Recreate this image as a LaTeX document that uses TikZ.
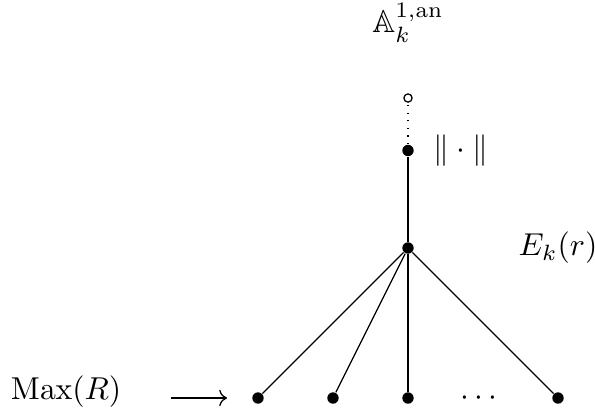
\documentclass[tikz,border=0pt]{standalone}
\usepackage{amsmath,amssymb}
\usepackage{tikz}
\usetikzlibrary{arrows.meta,positioning}
\tikzset{
  pt/.style={circle,fill=black,draw=none,inner sep=0pt,minimum size=3.6pt},
  opt/.style={circle,draw=black,fill=white,inner sep=0pt,minimum size=2.6pt},
  arr/.style={-{To}}
}
\begin{document}
\begin{tikzpicture}[x=0.8333cm,y=0.8333cm]
  \useasboundingbox (-5.44,-0.253) rectangle (2.493,5.307);
  \node (top) at (0,5) {$\mathbb{A}_k^{1,\mathrm{an}}$};
  \node[opt] (gen) at (0,4) {};
  \node[pt] (norm) at (0,3.3) {};
  \node[right=2.5pt of norm] (normlab) {$\|\cdot\|$};
  \node[pt] (ek) at (0,2) {};
  \node (eklab) at (2,2) {$E_k(r)$};
  \draw[dotted] (norm) -- (gen);
  \draw (ek) -- (norm);
  \foreach \i/\xpos in {1/-2, 2/-1, 3/0, 4/2} {
    \node[pt] (m\i) at (\xpos,0) {};
    \draw (ek) -- (m\i);
  }
  \node (dots) at (0.98,0) {$\cdots$};
  \node (max) at (-4.56,0.09) {$\mathrm{Max}(R)$};
  \coordinate (tip) at (-2.413,0);
  \draw[arr, shorten <=12.2pt] (max.east |- tip) -- (tip);
\end{tikzpicture}
\end{document}
